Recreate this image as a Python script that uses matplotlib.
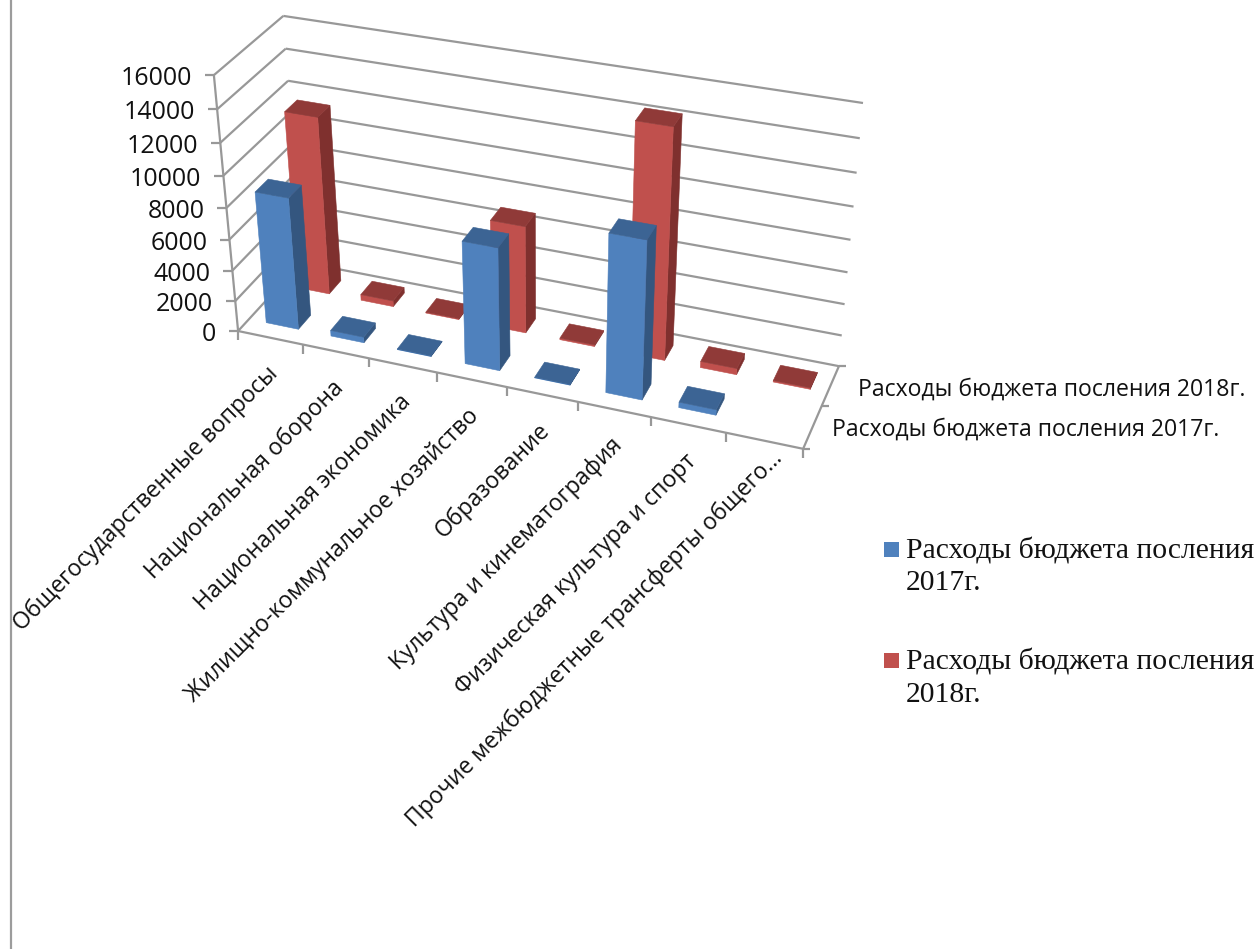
#!/usr/bin/env python3
"""3D-looking clustered bars (budget spending by section), drawn on a plain axes through a fitted camera."""
import matplotlib

matplotlib.use("Agg")
import matplotlib.pyplot as plt
import numpy as np
from matplotlib.patches import Polygon, Rectangle

CATEGORIES = [
    "Общегосударственные вопросы",
    "Национальная оборона",
    "Национальная экономика",
    "Жилищно-коммунальное хозяйство",
    "Образование",
    "Культура и кинематография",
    "Физическая культура и спорт",
    "Прочие межбюджетные трансферты общего…",
]
SERIES_2017 = [8500, 370, 40, 7800, 40, 9900, 350, 0]
SERIES_2018 = [11500, 380, 60, 6900, 100, 14400, 400, 90]
SERIES_NAMES = ["Расходы бюджета посления 2017г.", "Расходы бюджета посления 2018г."]
LEGEND_LINES = [["Расходы бюджета посления", "2017г."], ["Расходы бюджета посления", "2018г."]]
Y_TICKS = list(range(0, 16001, 2000))

BLUE = ("#4f81bd", "#34567f", "#3c6494")   # front, side, top
RED = ("#c0504d", "#7f302e", "#903a38")
GRID = "#989898"
INK = "#111111"
SANS = "Open Sans"
SERIF = "Liberation Serif"

# where known corners of the chart box land on the image: (category, series, value) -> pixel
CALIB = [
    ((0, 0, 0), (238, 331)), ((0, 0, 16000), (214, 75)), ((0, 2, 16000), (283, 15.7)),
    ((0, 2, 14000), (286, 49)), ((8, 2, 16000), (863, 103)), ((8, 2, 0), (839, 366)),
    ((8, 0, 0), (803, 449)), ((4, 0, 0), (507, 387)),
]


def fit_camera(pairs):
    rows, rhs = [], []
    for (c, s, v), (px, py) in pairs:
        z = v / 16000
        rows.append([c, s, z, 1, 0, 0, 0, 0, -px * c, -px * s, -px * z])
        rhs.append(px)
        rows.append([0, 0, 0, 0, c, s, z, 1, -py * c, -py * s, -py * z])
        rhs.append(py)
    m = np.linalg.lstsq(np.array(rows, float), np.array(rhs, float), rcond=None)[0]
    return np.append(m, 1.0).reshape(3, 4)


CAM = fit_camera(CALIB)


def proj(c, s, v):
    x, y, w = CAM @ np.array([c, s, v / 16000, 1.0])
    return x / w, y / w


fig = plt.figure(figsize=(12.58, 9.49), dpi=100)
ax = fig.add_axes([0, 0, 1, 1])
ax.set_xlim(0, 1258)
ax.set_ylim(949, 0)
ax.axis("off")


def line(a, b, lw=1.6):
    ax.plot([a[0], b[0]], [a[1], b[1]], color=GRID, linewidth=lw, solid_capstyle="butt", zorder=1)


# left page rule
ax.plot([10.5, 10.5], [0, 949], color="#9c9c9c", linewidth=1.6, zorder=1)

# walls
for v in Y_TICKS:
    line(proj(0, 0, v), proj(0, 2, v))
    line(proj(0, 2, v), proj(8, 2, v))
    x, y = proj(0, 0, v)
    line((x - 9, y), (x, y))
    ax.text(x - 22, y + 3.5, str(v), ha="right", va="center", fontsize=18, family=SANS, color=INK)
line(proj(0, 0, 0), proj(0, 0, 16000))
line(proj(0, 0, 0), proj(8, 0, 0))
line(proj(8, 0, 0), proj(8, 2, 0))

# axis ticks
for c in range(9):
    x, y = proj(c, 0, 0)
    line((x, y), (x, y + 9))
for s in range(3):
    x, y = proj(8, s, 0)
    line((x, y), (x + 7, y))


def draw_bar(c, s, value, colors):
    c0, c1 = c + 0.27, c + 0.77
    s0, s1 = s + 0.33, s + 0.72
    front, side, top = colors
    faces = [
        (side, [proj(c1, s0, 0), proj(c1, s1, 0), proj(c1, s1, value), proj(c1, s0, value)]),
        (front, [proj(c0, s0, 0), proj(c1, s0, 0), proj(c1, s0, value), proj(c0, s0, value)]),
        (top, [proj(c0, s0, value), proj(c1, s0, value), proj(c1, s1, value), proj(c0, s1, value)]),
    ]
    for col, pts in faces:
        ax.add_patch(Polygon(pts, closed=True, facecolor=col, edgecolor=col, linewidth=0.4,
                             zorder=3 + (1 - s)))


for s, (vals, cols) in reversed(list(enumerate([(SERIES_2017, BLUE), (SERIES_2018, RED)]))):
    for c, v in enumerate(vals):
        if v > 0:
            draw_bar(c, s, v, cols)

# category labels; the truncated last one sits a little closer to the axis
for c, name in enumerate(CATEGORIES):
    x, y = proj(c + 0.5, 0, 0)
    last = c == len(CATEGORIES) - 1
    ax.text(x + (14 if last else 4), y + (14 if last else 33), name, rotation=45, rotation_mode="anchor",
            ha="right", va="center", fontsize=16.6, family=SANS, color=INK)

# series labels on the depth axis
for s, (name, dx, dy) in enumerate(zip(SERIES_NAMES, (19, 28), (2, 4))):
    x, y = proj(8, s + 0.5, 0)
    ax.text(x + dx, y + dy, name, ha="left", va="center", fontsize=16.6, family=SANS, color=INK)

# legend
for color, lines_, y_box in zip((BLUE[0], RED[0]), LEGEND_LINES, (549.5, 660.5)):
    ax.add_patch(Rectangle((884, y_box - 7.5), 15, 15, facecolor=color, edgecolor="none"))
    for i, txt in enumerate(lines_):
        ax.text(906, y_box + 1.5 + i * 32.5, txt, ha="left", va="center", fontsize=21.3,
                family=SERIF, color=INK)

fig.savefig("out.png", dpi=100)
